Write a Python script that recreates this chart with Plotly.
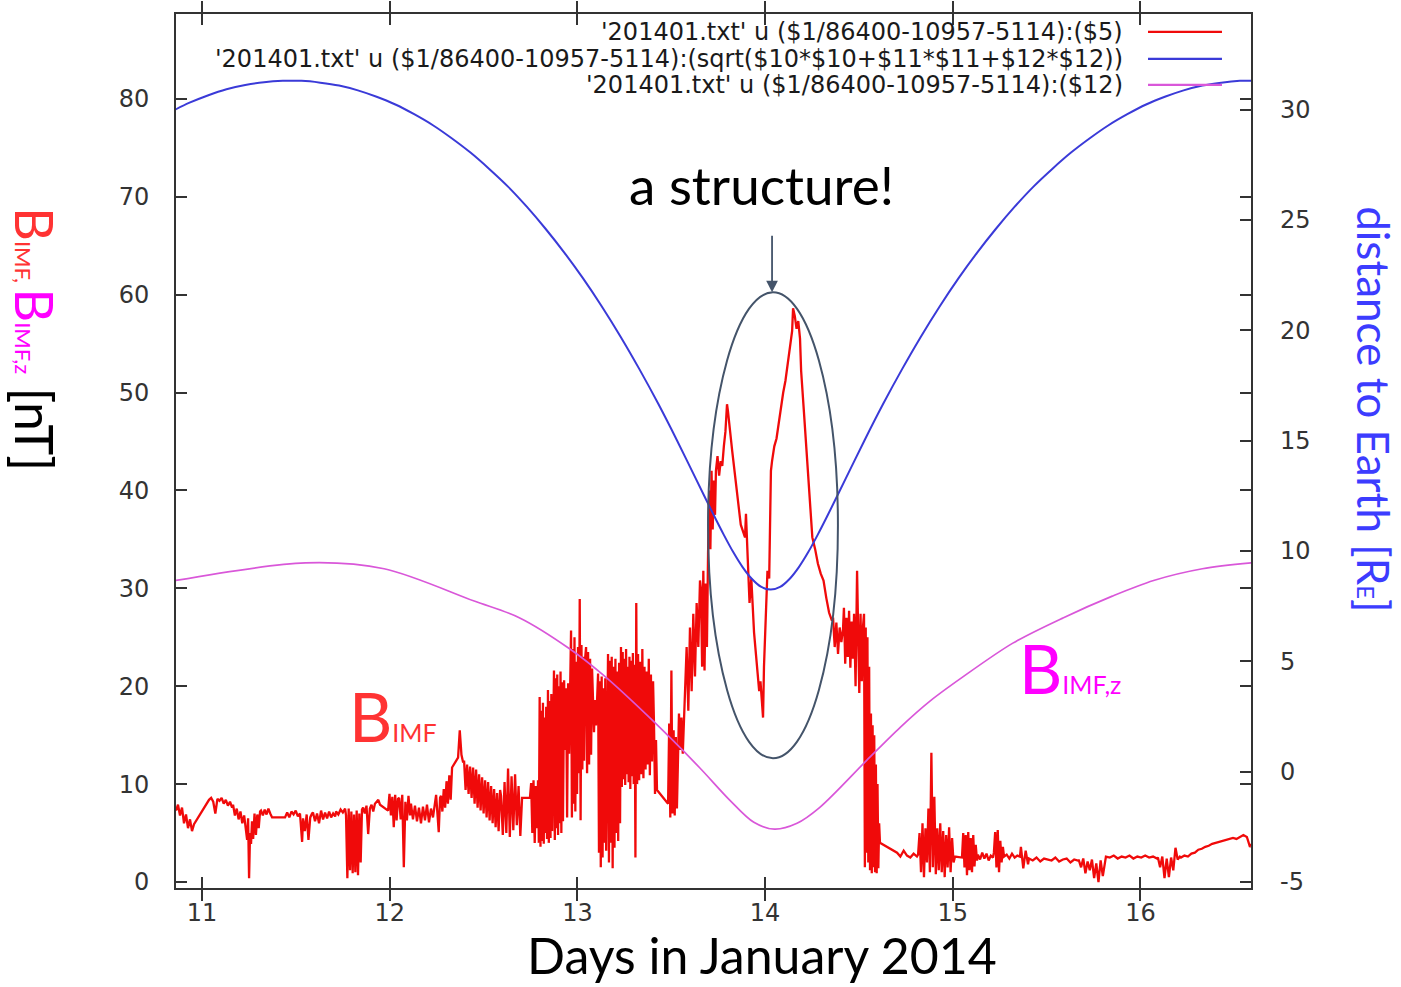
import numpy as np
import plotly.graph_objects as go

# ---------------------------------------------------------------------------
# Spacecraft distance to Earth [R_E] (right axis)
dist_day = [10.83, 10.93, 11.03, 11.13, 11.23, 11.33, 11.43, 11.53, 11.63, 11.73,
            11.83, 11.93, 12.03, 12.13, 12.23, 12.33, 12.43, 12.53, 12.63, 12.73,
            12.83, 12.93, 13.03, 13.13, 13.23, 13.33, 13.43, 13.53, 13.63, 13.73,
            13.78, 13.83, 13.88, 13.93, 13.98, 14.03, 14.08, 14.13, 14.18, 14.23,
            14.28, 14.33, 14.43, 14.53, 14.63, 14.73, 14.83, 14.93, 15.03, 15.13,
            15.23, 15.33, 15.43, 15.53, 15.63, 15.73, 15.83, 15.93, 16.03, 16.13,
            16.23, 16.33, 16.43, 16.53, 16.63]
dist_re = [29.88, 30.30, 30.64, 30.92, 31.11, 31.24, 31.30, 31.30, 31.22, 31.09,
           30.87, 30.58, 30.23, 29.79, 29.29, 28.70, 28.05, 27.31, 26.51, 25.60,
           24.60, 23.52, 22.35, 21.08, 19.71, 18.24, 16.68, 15.02, 13.29, 11.56,
           10.73, 9.95, 9.27, 8.73, 8.37, 8.25, 8.37, 8.73, 9.27, 9.95,
           10.73, 11.56, 13.29, 15.02, 16.68, 18.24, 19.71, 21.08, 22.35, 23.52,
           24.60, 25.60, 26.51, 27.31, 28.05, 28.70, 29.29, 29.79, 30.23, 30.58,
           30.87, 31.09, 31.22, 31.30, 31.31]

# Column 12 (drawn against the nT axis)
bz_day = [10.86, 11.55, 11.97, 12.45, 12.69, 12.96, 13.14, 13.40, 13.65, 13.81,
          13.94, 14.05, 14.17, 14.29, 14.54, 14.72, 14.88, 15.05, 15.32, 15.59,
          15.85, 16.07, 16.33, 16.59]
bz_nt = [30.8, 32.6, 32.0, 28.7, 27.0, 23.8, 21.1, 16.5, 11.7, 8.4,
         6.1, 5.4, 6.0, 7.6, 12.4, 15.8, 18.5, 20.9, 24.4, 27.0,
         29.2, 30.8, 32.0, 32.6]

# B_IMF [nT]: runs of evenly spaced samples -> (first day, last day, values)
bimf_jan10_11 = [
    (10.861, 10.957, [7.3, 7.9, 6.8, 7.6, 6.0, 6.9, 5.5, 6.4, 5.2, 5.9]),
    (11.037, 11.160, [8.4, 8.6, 8.2, 7.0, 8.5, 8.3, 8.6, 8.0, 8.4, 7.8, 8.2, 7.6]),
    (11.165, 11.234, [7.9, 6.8, 7.5, 6.4, 7.2, 6.0, 6.8, 5.2]),
    (11.240, 11.266, [4.3, 6.5, 0.4, 5.0, 3.9, 6.2]),
    (11.272, 11.309, [4.4, 7.0, 4.8, 6.9, 5.5, 7.2]),
    (11.314, 11.373, [7.3, 6.8, 7.4, 6.9, 7.5, 7.0, 6.6]),
    (11.442, 11.533, [6.6, 7.1, 6.6, 7.2, 6.9, 7.3, 6.7, 7.0, 4.1]),
    (11.538, 11.586, [6.5, 5.2, 6.9, 4.3, 6.6, 7.0]),
    (11.591, 11.709, [7.1, 6.2, 7.0, 6.0, 7.3, 6.4, 7.1, 6.5, 7.2, 6.6, 7.0, 6.7]),
    (11.714, 11.762, [7.2, 6.9, 7.4, 7.1, 7.5]),
    (11.767, 11.852, [6.8, 0.4, 7.5, 1.2, 7.2, 0.9, 6.9, 1.0, 7.3, 0.7, 7.0, 2.0, 7.4]),
    (11.858, 11.948, [7.6, 7.0, 7.8, 4.9, 7.5, 7.9, 7.2, 8.0, 8.2, 8.4, 7.9]),
]
bimf_jan12 = [
    (11.991, 12.044, [7.3, 9.0, 6.8, 8.7, 5.6, 8.9, 6.3, 8.5]),
    (12.050, 12.108, [8.6, 6.4, 8.9, 1.5, 8.2, 6.3, 8.8, 6.8]),
    (12.113, 12.241, [8.0, 6.4, 7.8, 6.2, 7.6, 6.0, 7.7, 6.3, 7.9, 6.1, 7.5, 6.6, 8.2]),
    (12.247, 12.268, [8.9, 7.0, 5.1, 8.6]),
    (12.273, 12.332, [8.8, 7.2, 9.5, 7.6, 10.3, 8.0, 10.9, 8.4, 11.7]),
    (12.364, 12.391, [12.7, 15.5, 13.0, 12.2]),
    (12.396, 12.588, [12.4, 9.4, 12.0, 9.0, 11.8, 8.6, 11.7, 8.0, 11.5, 7.6, 11.0, 7.3,
                      10.7, 7.0, 10.4, 6.6, 10.2, 6.3, 9.8, 6.0, 9.5, 5.6, 9.1, 5.2, 9.4]),
    (12.593, 12.705, [8.8, 4.8, 10.2, 5.0, 11.6, 4.6, 10.8, 5.3, 11.0, 5.8, 9.8, 4.7, 8.6]),
    (12.747, 12.785, [8.6, 10.1, 5.0, 10.4, 4.0, 9.8, 5.5]),
    (12.790, 12.838, [10.4, 4.0, 18.9, 3.6, 17.5, 4.2, 18.3, 3.9, 16.8, 5.0, 17.9, 4.4]),
    (12.843, 12.870, [19.6, 4.0, 18.5, 4.5, 19.2, 5.2, 18.0]),
    (12.875, 12.923, [21.6, 4.3, 20.8, 5.5, 21.2, 4.8, 20.0, 6.0, 21.5, 5.0, 20.4, 6.2]),
    (12.929, 12.961, [20.6, 13.5, 19.8, 6.6, 20.3, 13.1, 19.5]),
    (12.966, 12.998, [25.7, 6.6, 23.8, 8.0, 25.0, 7.2, 22.5, 9.0]),
]
bimf_jan13 = [
    (13.003, 13.040, [24.0, 11.1, 28.9, 6.3, 24.2, 11.5, 23.0, 12.4, 22.6]),
    (13.046, 13.078, [24.0, 11.1, 23.5, 12.0, 22.8, 13.0, 21.8]),
    (13.083, 13.104, [19.0, 15.3, 18.6, 16.0, 18.2]),
    (13.110, 13.158, [21.3, 3.0, 20.5, 1.5, 21.0, 2.5, 19.8, 4.0, 20.8, 3.2, 19.5]),
    (13.163, 13.227, [23.3, 2.0, 22.6, 4.0, 23.0, 1.4, 22.0, 3.5, 22.8, 5.0, 21.5,
                      4.2, 22.4, 6.0]),
    (13.232, 13.318, [24.0, 9.7, 23.5, 10.5, 22.8, 9.9, 23.8, 11.0, 22.0, 10.2, 23.0, 9.5,
                      22.6, 10.8, 23.4, 10.0, 22.2, 2.5, 28.5, 10.0]),
    (13.323, 13.403, [23.3, 10.4, 22.5, 11.0, 23.8, 10.6, 22.0, 11.5, 21.5, 12.0, 22.8,
                      10.9, 21.2, 12.3, 20.5]),
    (13.408, 13.424, [16.0, 9.0, 14.5, 9.4]),
    (13.483, 13.536, [8.0, 16.2, 6.6, 21.6, 7.0, 15.5, 6.8, 14.8, 7.5, 15.0]),
    (13.541, 13.568, [17.2, 13.5, 16.8, 13.1, 17.0]),
    (13.573, 13.653, [19.0, 24.0, 17.5, 26.0, 19.5, 27.4, 21.0, 28.5, 24.0, 30.8]),
    (13.658, 13.690, [30.0, 22.0, 31.8, 21.6, 30.5, 24.0]),
    (13.696, 13.733, [33.5, 40.0, 34.0, 42.0, 36.0, 41.0, 37.5]),
    (13.738, 13.797, [42.0, 43.5, 41.5, 43.0, 42.5, 44.5, 46.0, 48.8]),
    (13.802, 13.893, [48.1, 44.0, 40.0, 36.5, 35.2]),
    (13.898, 13.936, [37.6, 33.0, 28.5, 31.0, 27.0]),
    (13.941, 13.989, [25.5, 24.0, 22.5, 21.0, 19.5, 20.5, 18.9, 16.8]),
    (13.994, 14.031, [22.0, 28.0, 31.8, 31.0, 42.0]),
]
bimf_jan14 = [
    (14.037, 14.144, [43.0, 44.5, 45.3, 47.0, 48.5, 50.0, 51.2, 53.0, 55.0, 56.3]),
    (14.149, 14.186, [58.6, 57.8, 56.5, 57.3, 55.5]),
    (14.192, 14.356, [52.2, 48.0, 43.5, 39.0, 35.2, 34.0, 32.5, 31.5, 30.8, 29.0, 27.5, 26.7]),
    (14.362, 14.415, [27.0, 24.0, 26.5, 23.3, 26.0, 24.5, 25.8]),
    (14.420, 14.468, [28.0, 22.3, 27.0, 23.0, 27.7, 21.9, 26.6, 22.8]),
    (14.474, 14.490, [27.4, 20.0, 31.8]),
    (14.495, 14.522, [27.0, 19.3, 27.4, 20.5, 26.2]),
    (14.527, 14.559, [27.4, 1.5, 26.0, 3.0, 25.0, 2.0, 22.0, 1.2]),
    (14.564, 14.612, [17.2, 0.9, 16.0, 1.5, 15.0, 1.0, 12.0, 0.9, 10.0, 1.4, 6.0, 4.0]),
    (14.703, 14.809, [3.0, 2.6, 3.2, 2.7, 2.5, 2.9, 2.6]),
    (14.815, 15.012, [2.8, 5.0, 1.0, 6.0, 0.5, 5.5, 2.0, 7.5, 1.0, 13.2, 1.5, 8.7, 0.8,
                      5.5, 1.2, 6.0, 1.0, 5.2, 0.5, 4.8, 1.5, 5.6, 1.0, 4.5, 2.0, 2.6]),
]
bimf_jan15_16 = [
    (15.049, 15.129, [2.5, 5.0, 1.5, 4.8, 0.7, 5.1, 1.2, 4.5, 1.0, 4.8, 1.6, 3.8, 2.2]),
    (15.134, 15.214, [2.8, 2.3, 3.0, 2.4, 2.9, 2.2, 2.7, 2.5]),
    (15.219, 15.267, [3.0, 5.1, 1.5, 5.3, 1.0, 4.2, 2.0, 3.6]),
    (15.273, 15.358, [2.6, 2.8, 2.4, 2.9, 2.5, 2.7, 2.6]),
    (15.363, 15.401, [3.6, 1.4, 3.2, 1.8]),
    (15.406, 15.667, [2.4, 2.2, 2.5, 2.1, 2.4, 2.3, 2.2, 2.5, 2.1, 2.3, 2.4, 2.0, 2.3, 2.2]),
    (15.672, 15.811, [2.2, 1.5, 2.4, 0.9, 2.1, 1.2, 2.3, 0.4, 1.9, 0.0, 2.2, 0.6, 2.4]),
    (15.816, 16.088, [2.6, 2.5, 2.7, 2.4, 2.6, 2.5, 2.7, 2.4, 2.6, 2.5, 2.7, 2.5, 2.6, 2.4]),
    (16.093, 16.210, [2.5, 1.5, 2.6, 0.4, 2.4, 0.5, 2.5, 1.2, 3.5, 2.3, 2.6]),
    (16.216, 16.567, [2.5, 2.7, 2.6, 2.9, 3.0, 3.3, 3.4, 3.6, 3.7, 3.9, 4.0, 4.1, 4.2,
                      4.3, 4.4, 4.5, 4.4, 4.6, 4.8, 4.6]),
    (16.573, 16.594, [4.2, 3.6, 3.9]),
]

x_ticks = [11, 12, 13, 14, 15, 16]
y_ticks = [0, 10, 20, 30, 40, 50, 60, 70, 80]
y2_ticks = [-5, 0, 5, 10, 15, 20, 25, 30]

legend_labels = [
    "'201401.txt' u ($1/86400-10957-5114):($5)",
    "'201401.txt' u ($1/86400-10957-5114):(sqrt($10*$10+$11*$11+$12*$12))",
    "'201401.txt' u ($1/86400-10957-5114):($12)",
]

RED = "#f00a0a"
BLUE = "#3a3ad8"
MAGENTA = "#d957d9"
NOTE = "#44546a"
LABEL_FONT = "Lato"


def expand(*groups):
    """Turn runs of (start, end, values) into flat time/value lists."""
    t, v = [], []
    for runs in groups:
        for start, end, vals in runs:
            t.extend(np.linspace(start, end, len(vals)).tolist())
            v.extend(vals)
    return t, v


bimf_day, bimf_nt = expand(bimf_jan10_11, bimf_jan12, bimf_jan13, bimf_jan14, bimf_jan15_16)

fig = go.Figure()
fig.add_trace(go.Scatter(x=bimf_day, y=bimf_nt, mode="lines",
                         line=dict(color=RED, width=2.3), name=legend_labels[0]))
fig.add_trace(go.Scatter(x=dist_day, y=dist_re, mode="lines", yaxis="y2",
                         line=dict(color=BLUE, width=2, shape="spline", smoothing=0.8),
                         name=legend_labels[1]))
fig.add_trace(go.Scatter(x=bz_day, y=bz_nt, mode="lines",
                         line=dict(color=MAGENTA, width=1.7, shape="spline", smoothing=0.9),
                         name=legend_labels[2]))

tick_font = dict(family="DejaVu Sans", size=24, color="#333333")
axis_common = dict(showgrid=False, zeroline=False, ticks="inside", ticklen=11,
                   tickwidth=1.5, tickcolor="#333333", tickfont=tick_font)

fig.update_layout(
    width=1401, height=987,
    margin=dict(l=176, r=150, t=12, b=99, pad=0),
    paper_bgcolor="white", plot_bgcolor="white",
    showlegend=False,
    xaxis=dict(range=[10.861, 16.589], tickvals=x_ticks, showline=True,
               linecolor="#333333", linewidth=2, mirror="allticks",
               ticklabelstandoff=2, **axis_common),
    yaxis=dict(range=[-0.61, 88.66], tickvals=y_ticks, showline=True,
               linecolor="#333333", linewidth=2, mirror="allticks",
               ticklabelstandoff=20, **axis_common),
    yaxis2=dict(range=[-5.27, 34.33], tickvals=y2_ticks,
                ticktext=[str(v) for v in y2_ticks], overlaying="y", side="right",
                showline=False, ticklabelstandoff=28, **axis_common),
)

# key: right-aligned text with a short line sample after it
legend_rows_y = [0.9795, 0.9486, 0.9189]
for label, yy, col in zip(legend_labels, legend_rows_y, [RED, BLUE, MAGENTA]):
    fig.add_annotation(x=0.8828, y=yy, xref="paper", yref="paper", text=label,
                       showarrow=False, xanchor="right", yanchor="middle",
                       font=dict(family="DejaVu Sans", size=24, color="#1a1a1a"))
    fig.add_shape(type="line", xref="paper", yref="paper", x0=0.9042, x1=0.973,
                  y0=yy, y1=yy, line=dict(color=col, width=2.2))

# axis titles
fig.add_annotation(x=0.5451, y=-0.0765, xref="paper", yref="paper",
                   text="Days in January 2014", showarrow=False,
                   xanchor="center", yanchor="middle", borderpad=0,
                   font=dict(family=LABEL_FONT, size=50, color="black"))
left_title = ('<span style="color:#ff3333">B</span>'
              '<span style="color:#ff3333;font-size:22px">IMF, </span>'
              '<span style="color:#ff00ff">B</span>'
              '<span style="color:#ff00ff;font-size:22px">IMF,z</span>'
              ' [nT]')
fig.add_annotation(x=-0.1312, y=0.6279, xref="paper", yref="paper", text=left_title,
                   textangle=90, showarrow=False, xanchor="center", yanchor="middle",
                   font=dict(family=LABEL_FONT, size=52, color="black"))
right_title = 'distance to Earth [R<span style="font-size:24px">E</span>]'
fig.add_annotation(x=1.1144, y=0.5479, xref="paper", yref="paper", text=right_title,
                   textangle=90, showarrow=False, xanchor="center", yanchor="middle",
                   borderpad=0,
                   font=dict(family=LABEL_FONT, size=44, color="#3c3cff"))

# curve labels
fig.add_annotation(x=0.1590, y=0.1963, xref="paper", yref="paper",
                   text='B<span style="font-size:25px">IMF</span>', showarrow=False,
                   xanchor="left", yanchor="middle",
                   font=dict(family=LABEL_FONT, size=67, color="#ff3333"))
fig.add_annotation(x=0.7823, y=0.2517, xref="paper", yref="paper",
                   text='B<span style="font-size:25px">IMF,z</span>', showarrow=False,
                   xanchor="left", yanchor="middle",
                   font=dict(family=LABEL_FONT, size=67, color="#ff00ff"))

# highlighted structure
fig.add_annotation(x=0.5451, y=0.8048, xref="paper", yref="paper",
                   text="a structure!", showarrow=False,
                   xanchor="center", yanchor="middle",
                   font=dict(family=LABEL_FONT, size=53, color="black"))
fig.add_shape(type="circle", xref="x", yref="y", x0=13.696, x1=14.388, y0=12.64, y1=60.23,
              line=dict(color=NOTE, width=2))
fig.add_annotation(x=14.037, y=60.23, xref="x", yref="y", text="", showarrow=True,
                   ax=0, ay=-58, arrowhead=2, arrowsize=1.3, arrowwidth=1.8,
                   arrowcolor=NOTE)

fig.write_html("out.html")
